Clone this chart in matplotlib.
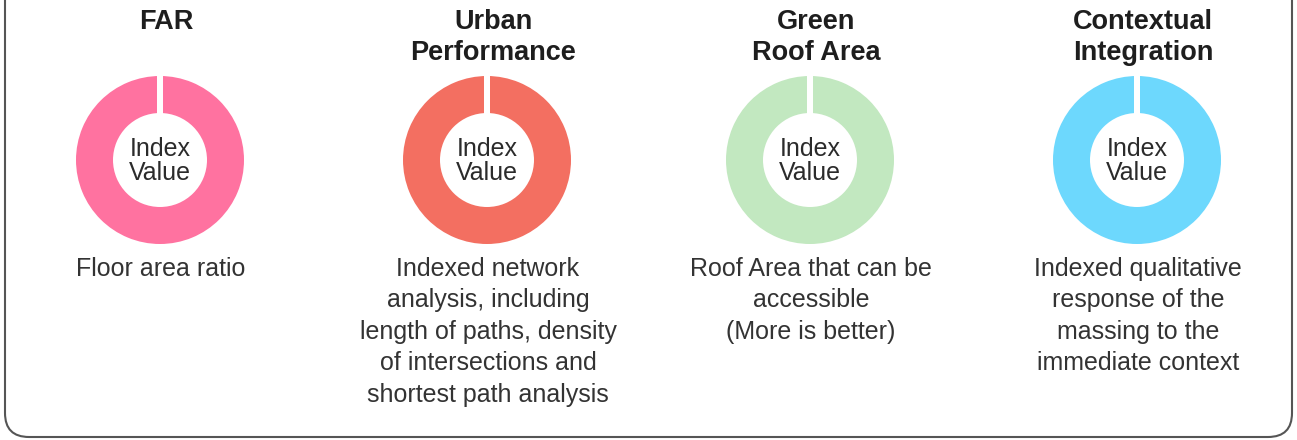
import matplotlib
matplotlib.use("Agg")
import matplotlib.pyplot as plt
from matplotlib.patches import FancyBboxPatch, Rectangle

# ---- data ----
titles = ["FAR", "Urban\nPerformance", "Green\nRoof Area", "Contextual\nIntegration"]
descriptions = [
    "Floor area ratio",
    "Indexed network\nanalysis, including\nlength of paths, density\nof intersections and\nshortest path analysis",
    "Roof Area that can be\naccessible\n(More is better)",
    "Indexed qualitative\nresponse of the\nmassing to the\nimmediate context",
]
center_label = "Index\nValue"
values = [100, 100, 100, 100]
colors = ["#FF72A0", "#F36F61", "#C2E8C0", "#6DD8FD"]

# ---- layout (pixels) ----
W, H = 1297, 440
centers_x = [160, 487, 810, 1137]
cy = 160
R = 84
ring_w = 37
gap_w = 6

fig = plt.figure(figsize=(W / 100, H / 100), dpi=100)
ax = fig.add_axes([0, 0, 1, 1])

for cx, val, col, title, desc in zip(centers_x, values, colors, titles, descriptions):
    ax.pie([val], colors=[col], radius=R, center=(cx, cy), startangle=90,
           wedgeprops=dict(width=ring_w, linewidth=0), frame=True)
    ax.add_patch(Rectangle((cx - gap_w / 2, cy - R - 2), gap_w, ring_w + 3,
                           facecolor="white", edgecolor="none", zorder=5))
    ax.text(cx, cy + 1, center_label, ha="center", va="center", fontsize=18,
            family="Liberation Sans", color="#2b2b2b", linespacing=1.03, zorder=6)
    ax.text(cx + 6, 9, title, ha="center", va="top", fontsize=19.5, fontweight="bold",
            family="Liberation Sans", color="#1e1e1e", linespacing=1.23)
    ax.text(cx + 1, 257, desc, ha="center", va="top", fontsize=18,
            family="Liberation Sans", color="#333333", linespacing=1.39)

border = FancyBboxPatch((5, -30), 1287, 467, boxstyle="round,pad=0,rounding_size=24",
                        facecolor="none", edgecolor="#555555", linewidth=1.5, zorder=10)
ax.add_patch(border)

ax.set_xlim(0, W)
ax.set_ylim(H, 0)
ax.set_aspect("equal")
ax.axis("off")

fig.savefig("out.png", dpi=100)
